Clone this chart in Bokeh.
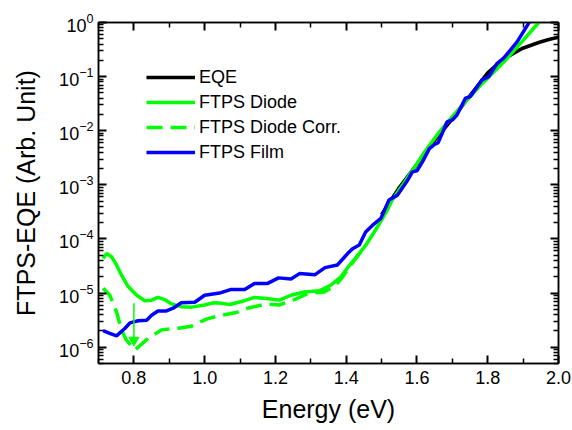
from bokeh.plotting import figure
from bokeh.models import (FixedTicker, LinearAxis, LogAxis, LogTickFormatter,
                          PrintfTickFormatter, Legend, LegendItem, Range1d)
from bokeh.embed import file_html
from bokeh.resources import INLINE

# ---------------- data ----------------
film_x = [0.713, 0.73, 0.751, 0.775, 0.789, 0.812, 0.836, 0.85, 0.868, 0.892, 0.911, 0.934,
          0.972, 1.0, 1.042, 1.075, 1.113, 1.141, 1.178, 1.209, 1.244, 1.268, 1.312, 1.34,
          1.375, 1.404, 1.418, 1.437, 1.455, 1.474, 1.498, 1.521, 1.545, 1.573, 1.587, 1.60,
          1.615, 1.635, 1.648, 1.66, 1.685, 1.70, 1.713, 1.737, 1.751, 1.784, 1.803, 1.826,
          1.845, 1.864, 1.883, 1.915, 1.93]
film_y = [2.02e-6, 1.82e-6, 1.62e-6, 2.24e-6, 2.82e-6, 3.09e-6, 3.16e-6, 3.89e-6, 4.68e-6,
          4.68e-6, 5.25e-6, 6.61e-6, 6.76e-6, 9.12e-6, 1.0e-5, 1.17e-5, 1.17e-5, 1.51e-5,
          1.51e-5, 1.91e-5, 1.82e-5, 2.29e-5, 2.19e-5, 2.95e-5, 3.31e-5, 5.37e-5, 6.61e-5,
          7.76e-5, 1.35e-4, 1.78e-4, 2.40e-4, 5.25e-4, 6.46e-4, 1.20e-3, 1.74e-3, 1.82e-3,
          2.63e-3, 4.68e-3, 5.50e-3, 6.03e-3, 1.45e-2, 1.58e-2, 1.95e-2, 3.98e-2, 4.27e-2,
          8.71e-2, 0.100, 0.174, 0.219, 0.309, 0.437, 0.955, 1.41]

diode_x = [0.713, 0.723, 0.737, 0.751, 0.765, 0.784, 0.808, 0.831, 0.85, 0.868, 0.887, 0.906,
           0.934, 0.963, 1.0, 1.023, 1.05, 1.07, 1.108, 1.141, 1.174, 1.211, 1.244, 1.282,
           1.324, 1.357, 1.385, 1.404, 1.422, 1.455, 1.488, 1.516, 1.53, 1.568, 1.606, 1.624,
           1.66, 1.70, 1.74, 1.784, 1.85, 1.90, 1.944, 1.96]
diode_y = [4.37e-5, 5.37e-5, 4.68e-5, 3.31e-5, 2.14e-5, 1.32e-5, 9.12e-6, 7.24e-6, 7.41e-6,
           8.32e-6, 7.59e-6, 6.31e-6, 5.62e-6, 5.50e-6, 6.03e-6, 6.61e-6, 6.46e-6, 6.17e-6,
           7.08e-6, 8.32e-6, 7.94e-6, 7.41e-6, 9.12e-6, 1.05e-5, 1.10e-5, 1.41e-5, 2.00e-5,
           2.95e-5, 4.07e-5, 7.59e-5, 1.66e-4, 3.39e-4, 5.25e-4, 1.20e-3, 2.82e-3, 4.27e-3,
           8.91e-3, 1.82e-2, 3.63e-2, 7.41e-2, 0.200, 0.468, 1.0, 1.32]

corr_x = [0.713, 0.732, 0.751, 0.765, 0.779, 0.803, 0.840, 0.878, 0.925, 0.963, 1.005, 1.047,
          1.089, 1.127, 1.174, 1.211, 1.254, 1.291, 1.338, 1.371, 1.39, 1.422, 1.455]
corr_y = [1.23e-5, 9.12e-6, 4.47e-6, 2.09e-6, 1.35e-6, 8.9e-7, 1.45e-6, 2.09e-6, 2.24e-6,
          2.45e-6, 3.31e-6, 3.89e-6, 4.37e-6, 5.37e-6, 6.31e-6, 6.03e-6, 7.59e-6, 9.77e-6,
          1.05e-5, 1.41e-5, 2.0e-5, 3.98e-5, 7.41e-5]

eqe_x = [1.50, 1.55, 1.60, 1.65, 1.70, 1.75, 1.80, 1.84, 1.87, 1.897, 1.944, 1.97, 2.0]
eqe_y = [2.82e-4, 8.91e-4, 2.40e-3, 6.61e-3, 1.66e-2, 4.47e-2, 0.117, 0.200, 0.263, 0.331,
         0.427, 0.479, 0.537]

arrow_x = [0.8]
arrow_y_start = [6.5e-6]
arrow_y_shaft_end = [1.5e-6]
arrow_y_head = [1.35e-6]

x_major = [0.8, 1.0, 1.2, 1.4, 1.6, 1.8, 2.0]
x_minor = [0.7, 0.9, 1.1, 1.3, 1.5, 1.7, 1.9]
y_major = [1e-6, 1e-5, 1e-4, 1e-3, 1e-2, 1e-1, 1e0]
y_minor = [m * d for d in [1e-7, 1e-6, 1e-5, 1e-4, 1e-3, 1e-2, 1e-1] for m in range(2, 10)]

labels = ["EQE", "FTPS Diode", "FTPS Diode Corr.", "FTPS Film"]

# ---------------- figure ----------------
FONT = "Liberation Sans"
GREEN = "#00FF00"
BLUE = "#0000FF"

p = figure(width=572, height=430, y_axis_type="log",
           x_range=Range1d(0.7, 2.0), y_range=Range1d(5.0e-7, 1.0),
           output_backend="svg", toolbar_location=None,
           min_border_left=98, min_border_right=14, min_border_top=22, min_border_bottom=67)
p.xgrid.grid_line_color = None
p.ygrid.grid_line_color = None
p.outline_line_color = "black"
p.outline_line_width = 1.5

r_eqe = p.line(eqe_x, eqe_y, line_color="black", line_width=3.5)
r_diode = p.line(diode_x, diode_y, line_color=GREEN, line_width=3.5)
r_corr = p.line(corr_x, corr_y, line_color=GREEN, line_width=3.5, line_dash="16 8")
r_film = p.line(film_x, film_y, line_color=BLUE, line_width=3.5)

# arrow marking the corrected minimum
p.segment(x0=arrow_x, y0=arrow_y_start, x1=arrow_x, y1=arrow_y_shaft_end,
          line_color=GREEN, line_width=1.5)
p.scatter(x=arrow_x, y=arrow_y_head, marker="inverted_triangle", size=10,
          fill_color=GREEN, line_color=GREEN)

xt = FixedTicker(ticks=x_major, minor_ticks=x_minor)
yt = FixedTicker(ticks=y_major, minor_ticks=y_minor)


def style(ax, show_labels):
    ax.axis_line_color = "black"
    ax.axis_line_width = 1.5
    ax.major_tick_in = 8
    ax.major_tick_out = 0
    ax.minor_tick_in = 5
    ax.minor_tick_out = 0
    ax.major_tick_line_color = "black"
    ax.minor_tick_line_color = "black"
    ax.major_tick_line_width = 2
    ax.minor_tick_line_width = 1.5
    ax.major_label_text_font = FONT
    ax.axis_label_text_font = FONT
    ax.axis_label_text_font_style = "normal"
    ax.major_label_text_color = "black"
    ax.axis_label_text_color = "black"
    if show_labels:
        ax.major_label_text_font_size = "18px"
        ax.axis_label_text_font_size = "25px"
    else:
        ax.major_label_text_font_size = "1px"
        ax.major_label_text_alpha = 0
        ax.major_label_standoff = 0


xa = p.xaxis[0]
xa.ticker = xt
xa.formatter = PrintfTickFormatter(format="%.1f")
xa.axis_label = "Energy (eV)"
style(xa, True)
xa.major_label_standoff = 7
xa.axis_label_standoff = 8

ya = p.yaxis[0]
ya.ticker = yt
ya.formatter = LogTickFormatter()
ya.axis_label = "FTPS-EQE (Arb. Unit)"
style(ya, True)
ya.major_label_standoff = 5
ya.axis_label_standoff = 16

top = LinearAxis(ticker=xt)
style(top, False)
p.add_layout(top, "above")

right = LogAxis(ticker=yt)
style(right, False)
p.add_layout(right, "right")

legend = Legend(items=[LegendItem(label=labels[0], renderers=[r_eqe]),
                       LegendItem(label=labels[1], renderers=[r_diode]),
                       LegendItem(label=labels[2], renderers=[r_corr]),
                       LegendItem(label=labels[3], renderers=[r_film])],
                location=(48, 200), orientation="vertical")
legend.border_line_color = None
legend.background_fill_alpha = 0
legend.label_text_font = FONT
legend.label_text_font_size = "18px"
legend.label_text_color = "black"
legend.glyph_width = 49
legend.glyph_height = 22
legend.label_height = 22
legend.label_standoff = 4
legend.spacing = 3
legend.padding = 0
legend.margin = 0
p.add_layout(legend, "center")

open("out.html", "w").write(file_html(p, INLINE))
